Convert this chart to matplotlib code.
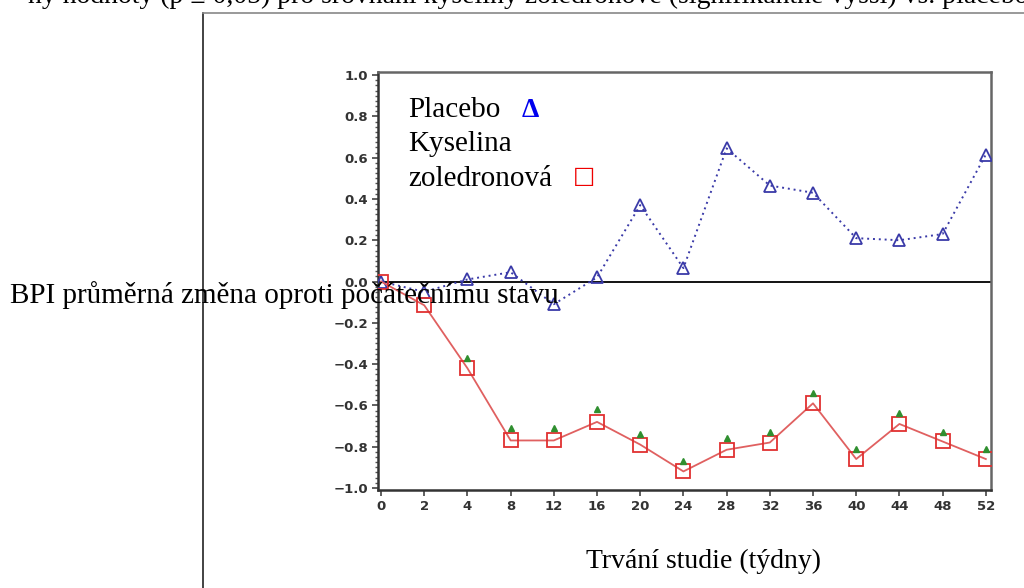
import numpy as np
import matplotlib.pyplot as plt
from matplotlib.lines import Line2D
from matplotlib.ticker import MultipleLocator

# study weeks (categorical x axis)
weeks = ["0", "2", "4", "8", "12", "16", "20", "24", "28", "32", "36", "40", "44", "48", "52"]

# mean change of BPI from baseline
placebo = [0.0, -0.05, 0.01, 0.045, -0.11, 0.02, 0.37, 0.065, 0.645, 0.465, 0.43, 0.21, 0.20, 0.23, 0.615]
zoledronic = [0.0, -0.115, -0.42, -0.77, -0.77, -0.68, -0.79, -0.92, -0.815, -0.78, -0.59, -0.86, -0.69, -0.775, -0.86]
# significance flags drawn just above the zoledronic acid points
signif_weeks = ["4", "8", "12", "16", "20", "24", "28", "32", "36", "40", "44", "48", "52"]
signif_y = [-0.37, -0.71, -0.71, -0.62, -0.74, -0.87, -0.76, -0.73, -0.54, -0.81, -0.635, -0.73, -0.81]

yticks = [1.0, 0.8, 0.6, 0.4, 0.2, 0.0, -0.2, -0.4, -0.6, -0.8, -1.0]

serif = ["Liberation Serif", "DejaVu Serif"]

fig = plt.figure(figsize=(10.24, 5.88), dpi=100)
ax = fig.add_axes([378 / 1024, 1 - 490 / 588, 613 / 1024, 418 / 588])

x = np.arange(len(weeks))
xs = [weeks.index(w) for w in signif_weeks]

ax.axhline(0, color="black", lw=1.3, zorder=1)
ax.plot(x, placebo, linestyle=(0, (1, 2)), color="#3a3aa8", lw=1.4,
        marker="^", markersize=8, markerfacecolor="none", markeredgecolor="#3a3aa8",
        markeredgewidth=1.3, zorder=3)
ax.plot(x, zoledronic, linestyle="-", color="#e06060", lw=1.3,
        marker="s", markersize=10, markerfacecolor="none", markeredgecolor="#e03030",
        markeredgewidth=1.3, zorder=3)
ax.plot(xs, signif_y, linestyle="none", marker="^", markersize=4,
        color="#2f8f2f", zorder=4)

ax.set_xlim(-0.07, 14.12)
ax.set_ylim(-1.01, 1.015)
ax.set_xticks(x)
ax.set_xticklabels(weeks)
ax.set_yticks(yticks)
ax.set_yticklabels([f"{v:.1f}".replace("-", "\u2212") for v in yticks])
ax.yaxis.set_minor_locator(MultipleLocator(0.025))

for side in ["left", "bottom"]:
    ax.spines[side].set_color("#333333")
    ax.spines[side].set_linewidth(1.8)
for side in ["top", "right"]:
    ax.spines[side].set_color("#666666")
    ax.spines[side].set_linewidth(1.8)

ax.tick_params(axis="both", which="major", length=4, width=1.2, color="#444444",
               labelsize=9.5, labelcolor="#333333", pad=3)
ax.tick_params(axis="y", which="minor", length=2, width=1.0, color="#555555")
for lbl in ax.get_xticklabels() + ax.get_yticklabels():
    lbl.set_fontweight("bold")

# legend written as plain text with symbols
fig.text(408 / 1024, 1 - 117 / 588, "Placebo", family=serif, fontsize=21, va="baseline")
fig.text(522 / 1024, 1 - 117 / 588, "\u0394", family=serif, fontsize=20, va="baseline",
         color="#0000ee", fontweight="bold")
fig.text(408 / 1024, 1 - 151 / 588, "Kyselina", family=serif, fontsize=21, va="baseline")
fig.text(408 / 1024, 1 - 186 / 588, "zoledronová", family=serif, fontsize=21, va="baseline")
fig.text(573 / 1024, 1 - 183 / 588, "\u25a1", family=["DejaVu Sans"], fontsize=17,
         va="baseline", color="#ee0000")

fig.text(10 / 1024, 1 - 303 / 588, "BPI průměrná změna oproti počátečnímu stavu",
         family=serif, fontsize=21, va="baseline", zorder=5)
fig.text(703 / 1024, 1 - 568 / 588, "Trvání studie (týdny)", family=serif,
         fontsize=20, va="baseline", ha="center")

# running text of the page, cut off at the top edge
fig.text(28 / 1024, 1 - 3 / 588,
         "ny hodnoty (p ≤ 0,05) pro srovnání kyseliny zoledronové (signifikantně vyšší) vs. placebo",
         family=serif, fontsize=20, va="baseline")

# page frame around the figure
fig.add_artist(Line2D([203 / 1024, 203 / 1024], [0, 1 - 13 / 588],
                      transform=fig.transFigure, color="#222222", lw=1.2))
fig.add_artist(Line2D([203 / 1024, 1], [1 - 13 / 588, 1 - 13 / 588],
                      transform=fig.transFigure, color="#888888", lw=1.2))

fig.savefig("out.png", dpi=100)
